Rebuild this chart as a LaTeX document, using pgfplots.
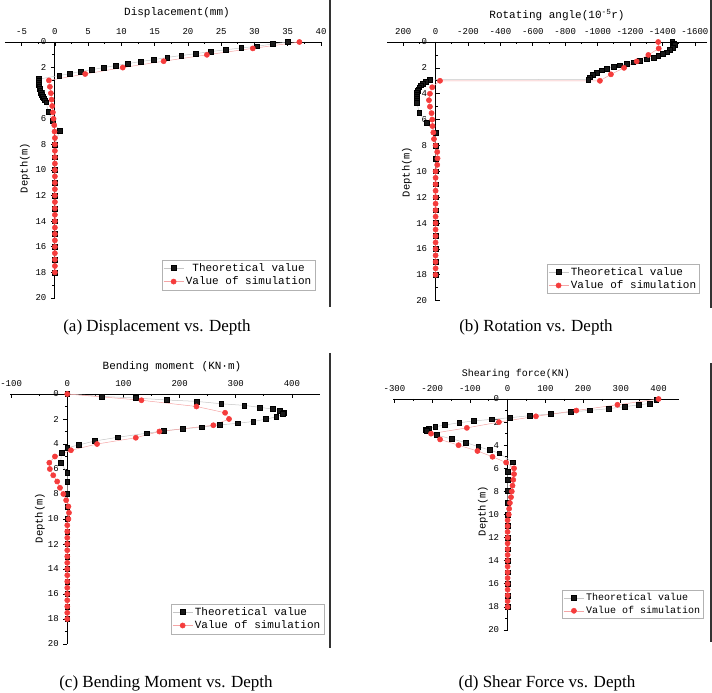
\documentclass[border=0pt]{standalone}
\usepackage{pgfplots}
\pgfplotsset{compat=1.18}
\usepackage{fontspec}
\setmainfont{Liberation Serif}
\newfontfamily\mono{Liberation Mono}
\definecolor{simred}{RGB}{245,60,60}
\definecolor{simline}{RGB}{245,165,165}
\pgfplotsset{
 depthaxis/.style={
  scale only axis, anchor=north west, y dir=reverse,
  axis x line=top, axis y line=middle,
  ymin=0, ymax=20, ytick={0,2,...,20}, minor y tick num=1, minor x tick num=1,
  enlargelimits=false,
  axis line style={-, line width=0.8pt, black},
  every inner y axis line/.append style={-},
  every outer x axis line/.append style={-},
  xtick align=inside, ytick align=outside,
  major tick length=4pt, minor tick length=2.5pt,
  tick style={line width=0.7pt, black},
  hide obscured x ticks=false, hide obscured y ticks=false,
  /pgf/number format/assume math mode=true,
  /pgf/number format/1000 sep={},
  tick label style={font=\mono\fontsize{9}{9}\selectfont},
  xticklabel style={yshift=4pt},
  yticklabel style={xshift=-1pt},
  legend cell align=left,
  legend style={draw=gray!60, line width=0.5pt, fill=white, font=\mono\fontsize{11}{13}\selectfont, inner sep=1.5pt, row sep=0pt},
  legend image code/.code={\draw[#1, mark repeat=2, mark phase=2] plot coordinates {(0cm,0cm) (0.35cm,0cm) (0.7cm,0cm)};},
 },
 theo/.style={color=gray!45, line width=0.5pt, mark=square*, mark size=2.4pt, mark options={draw=black, fill=black!90}},
 simu/.style={color=simline, line width=0.5pt, mark=*, mark size=2.6pt, mark options={draw=simred, fill=simred}},
}
\begin{document}
\begin{tikzpicture}
\useasboundingbox (0,0) rectangle (712pt,693pt);
% separators
\draw[gray!40!black, line width=1.2pt] (330pt,693pt) -- (330pt,386pt);
\draw[gray!40!black, line width=1.2pt] (711pt,693pt) -- (711pt,385pt);
\draw[gray!40!black, line width=1.2pt] (330pt,340pt) -- (330pt,45pt);
\draw[gray!40!black, line width=1.2pt] (711pt,330pt) -- (711pt,51pt);

% (a)
\begin{axis}[depthaxis, at={(5pt,651pt)}, width=316pt, height=256pt,
  xmin=-7.5, xmax=40, xtick={-5,0,...,40},
  legend style={at={(0.981,0.031)}, anchor=south east}]
\addplot[theo] coordinates {(35.0,0) (32.7,0.16) (30.4,0.33) (28.0,0.47) (25.7,0.6) (23.4,0.75) (21.15,0.91) (19.0,1.06) (16.9,1.2) (14.9,1.38) (12.95,1.52) (11.0,1.69) (9.1,1.84) (7.35,2.0) (5.55,2.16) (3.85,2.3) (2.2,2.48) (0.65,2.62) (-2.4,2.9) (-2.45,3.05) (-2.45,3.2) (-2.4,3.35) (-2.35,3.5) (-2.3,3.65) (-2.2,3.8) (-2.1,3.95) (-1.95,4.1) (-1.8,4.25) (-1.65,4.4) (-1.5,4.55) (-1.3,4.7) (-1.0,5.45) (-0.35,6.13) (0.7,6.96) (0,8) (0,9) (0,10) (0,11) (0,12) (0,13) (0,14) (0,15) (0,16) (0,17) (0,18)};
\addplot[simu] coordinates {(36.75,0) (29.75,0.5) (22.85,1.0) (16.35,1.5) (10.2,2.0) (4.55,2.5) (-0.9,3.0) (-0.75,3.5) (-0.6,4.0) (-0.5,4.5) (-0.4,5.0) (-0.3,5.5) (-0.2,6.0) (-0.1,6.5) (-0.05,7.0) (0,7.5) (0,8) (0,8.5) (0,9) (0,9.5) (0,10) (0,10.5) (0,11) (0,11.5) (0,12) (0,12.5) (0,13) (0,13.5) (0,14) (0,14.5) (0,15) (0,15.5) (0,16) (0,16.5) (0,17) (0,17.5) (0,18)};
\legend{\ Theoretical value, Value of simulation}
\end{axis}

% (b)
\begin{axis}[depthaxis, at={(387pt,651pt)}, width=320pt, height=258.7pt,
  x dir=reverse, xmin=-1675, xmax=300, xtick={-1600,-1400,...,200},
  legend style={at={(0.978,0.026)}, anchor=south east}]
\addplot[theo] coordinates {(-1460,0) (-1471,0.1) (-1477,0.23) (-1463,0.44) (-1447,0.62) (-1426,0.8) (-1400,0.93) (-1374,1.06) (-1344,1.21) (-1302,1.34) (-1261,1.47) (-1220,1.57) (-1179,1.68) (-1138,1.8) (-1097,1.93) (-1056,2.06) (-1025,2.19) (-994,2.37) (-969,2.55) (-953,2.73) (-942,2.89) (35,2.92) (62,3.06) (80,3.2) (92,3.35) (101,3.5) (107,3.65) (111,3.8) (114,3.95) (116,4.1) (117,4.25) (117,4.4) (116,4.55) (115,4.7) (101,5.48) (56,6.25) (0,7.0) (0,8) (0,9) (0,10) (0,11) (0,12) (0,13) (0,14) (0,15) (0,16) (0,17) (0,18)};
\addplot[simu] coordinates {(-1374,0) (-1377,0.5) (-1313,1.0) (-1241,1.5) (-1163,2.0) (-1082,2.5) (-1014,3.0) (-27,3.0) (21,3.5) (35,4.0) (41,4.5) (35,5.0) (25,5.5) (21,6.0) (19,6.5) (14,7.0) (10,7.5) (0,8.0) (-10,8.5) (-12,9.0) (-10,9.5) (0,10) (0,10.5) (0,11) (0,11.5) (0,12) (0,12.5) (0,13) (0,13.5) (0,14) (0,14.5) (0,15) (0,15.5) (0,16) (0,16.5) (0,17) (0,17.5) (0,18)};
\legend{Theoretical value, Value of simulation}
\end{axis}

% (c)
\begin{axis}[depthaxis, at={(10pt,299pt)}, width=310pt, height=250pt,
  xmin=-102, xmax=450, xtick={-100,0,...,400},
  legend style={at={(1.013,0.04)}, anchor=south east}]
\addplot[theo] coordinates {(0,0) (61,0.19) (122,0.32) (177,0.48) (230,0.59) (274,0.78) (315,0.91) (343,1.07) (366,1.21) (379,1.34) (385,1.48) (383,1.61) (372,1.83) (354,2.01) (331,2.2) (304,2.34) (272,2.47) (239,2.66) (205,2.79) (172,2.95) (141,3.14) (90,3.46) (49,3.76) (20,4.08) (0,4.3) (-10,4.67) (-12,5.48) (0,6.28) (0,7) (0,8) (0,9) (0,10) (0,11) (0,12) (0,13) (0,14) (0,15) (0,16) (0,17) (0,18)};
\addplot[simu] coordinates {(0,0) (132,0.5) (230,1.0) (281,1.5) (288,2.0) (260,2.5) (164,3.0) (122,3.5) (53,4.0) (6.5,4.5) (-22,5.0) (-32,5.5) (-31,6.0) (-25,6.5) (-18,7.0) (-13,7.5) (-7,8.0) (-2,8.5) (2,9.0) (3,9.5) (2,10) (0,10.5) (0,11) (0,11.5) (0,12) (0,12.5) (0,13) (0,13.5) (0,14) (0,14.5) (0,15) (0,15.5) (0,16) (0,16.5) (0,17) (0,17.5) (0,18)};
\legend{Theoretical value, Value of simulation}
\end{axis}

% (d)
\begin{axis}[depthaxis, at={(393.3pt,294pt)}, width=286pt, height=231pt,
  xmin=-303, xmax=455, xtick={-300,-200,...,400},
  legend style={at={(1.086,0.048)}, anchor=south east, font=\mono\fontsize{10}{12}\selectfont}]
\addplot[theo] coordinates {(394,0.05) (376,0.38) (347,0.52) (310,0.66) (268,0.84) (218,0.98) (167,1.13) (115,1.3) (59,1.44) (6,1.62) (-42,1.76) (-89,1.9) (-128,2.05) (-166,2.25) (-192,2.4) (-210,2.54) (-218,2.68) (-215,2.77) (-188,3.12) (-148,3.46) (-110,3.78) (-78,4.13) (-47,4.42) (-22,4.7) (13,5.48) (0,6.29) (0,7.01) (0,7.97) (0,9) (0,10) (0,11) (0,12) (0,13) (0,14) (0,15) (0,16) (0,17) (0,18)};
\addplot[simu] coordinates {(400,0) (291,0.5) (182,1.0) (75,1.5) (-23,2.0) (-108,2.5) (-203,3.0) (-179,3.5) (-130,4.0) (-80,4.5) (-40,5.0) (-4,5.5) (17,6.0) (17,6.5) (15,7.0) (13,7.5) (11,8.0) (9,8.5) (6,9.0) (4,9.5) (3,10) (0,10.5) (0,11) (0,11.5) (0,12) (0,12.5) (0,13) (0,13.5) (0,14) (0,14.5) (0,15) (0,15.5) (0,16) (0,16.5) (0,17) (0,17.5) (0,18)};
\legend{Theoretical value, Value of simulation}
\end{axis}

% axis titles
\node[font=\mono\fontsize{11}{11}\selectfont] at (177pt,680pt) {Displacement(mm)};
\node[font=\mono\fontsize{11}{11}\selectfont] at (557pt,678pt) {Rotating angle(10\textsuperscript{-5}r)};
\node[font=\mono\fontsize{11}{11}\selectfont] at (172pt,326pt) {Bending moment (KN·m)};
\node[font=\mono\fontsize{10}{10}\selectfont] at (516pt,319pt) {Shearing force(KN)};
\node[font=\mono\fontsize{10.5}{10.5}\selectfont, rotate=90] at (25pt,525pt) {Depth(m)};
\node[font=\mono\fontsize{10.5}{10.5}\selectfont, rotate=90] at (407pt,521pt) {Depth(m)};
\node[font=\mono\fontsize{10.5}{10.5}\selectfont, rotate=90] at (40pt,175pt) {Depth(m)};
\node[font=\mono\fontsize{10.5}{10.5}\selectfont, rotate=90] at (483pt,182pt) {Depth(m)};
% captions
\node[font=\fontsize{17}{17}\selectfont] at (157pt,366pt) {(a) Displacement vs. Depth};
\node[font=\fontsize{17}{17}\selectfont] at (536pt,366pt) {(b) Rotation vs. Depth};
\node[font=\fontsize{17}{17}\selectfont] at (166pt,10pt) {(c) Bending Moment vs. Depth};
\node[font=\fontsize{17}{17}\selectfont] at (547pt,10pt) {(d) Shear Force vs. Depth};
\end{tikzpicture}
\end{document}
